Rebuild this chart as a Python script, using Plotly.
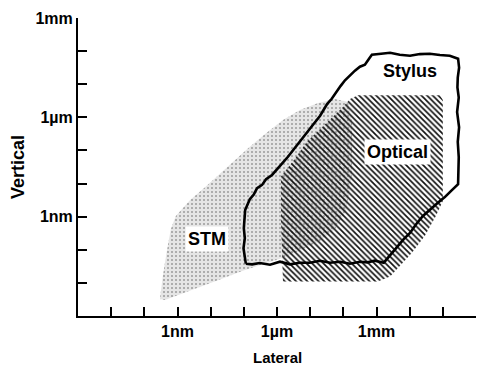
import plotly.graph_objects as go

# ---- data (log10 of metres) ----
# Stylus profilometer region (outline)
stylus_lateral_exp = [-6.94, -6.98, -7.01, -6.97, -7.00, -6.96, -6.82, -6.70, -6.60, -6.45, -6.33,
                      -6.15, -6.00, -5.85, -5.67, -5.50, -5.31, -5.12, -4.92, -4.70, -4.49, -4.35,
                      -4.22, -4.08, -3.95, -3.80, -3.65, -3.50, -3.35, -3.22, -3.14, -2.86, -2.59,
                      -2.30, -1.99, -1.69, -1.39, -1.09, -0.79, -0.54, -0.51, -0.55, -0.56, -0.52,
                      -0.57, -0.51, -0.55, -0.52, -0.54, -0.75, -0.94, -1.15, -1.33, -1.60, -1.80,
                      -1.99, -2.18, -2.35, -2.55, -2.78, -3.05, -3.27, -3.50, -3.80, -4.10, -4.40,
                      -4.70, -5.01, -5.31, -5.61, -5.91, -6.21, -6.52, -6.75, -6.94]
stylus_vertical_exp = [-10.42, -10.20, -9.95, -9.65, -9.35, -8.80, -8.47, -8.33, -8.14, -8.04, -7.87,
                       -7.74, -7.58, -7.40, -7.19, -6.98, -6.74, -6.50, -6.23, -5.95, -5.60, -5.44,
                       -5.24, -5.05, -4.88, -4.73, -4.59, -4.47, -4.41, -4.22, -4.11, -4.08, -4.05,
                       -4.11, -4.14, -4.09, -4.08, -4.12, -4.14, -4.23, -4.50, -4.80, -5.10, -5.40,
                       -5.84, -6.30, -6.74, -7.20, -8.02, -8.22, -8.41, -8.58, -8.74, -8.98, -9.22,
                       -9.49, -9.68, -9.88, -10.12, -10.39, -10.33, -10.38, -10.36, -10.42, -10.36,
                       -10.39, -10.33, -10.39, -10.39, -10.44, -10.36, -10.45, -10.40, -10.44, -10.42]

# Optical region (hatched)
optical_lateral_exp = [-5.82, -5.88, -5.88, -5.46, -5.10, -4.55, -4.01, -3.80, -3.56, -1.09, -1.00,
                       -1.00, -1.21, -1.54, -1.93, -2.29, -2.59, -2.96, -5.82]
optical_vertical_exp = [-10.96, -9.13, -7.79, -7.25, -6.74, -6.20, -5.69, -5.45, -5.33, -5.33, -5.48,
                        -8.53, -8.98, -9.58, -10.09, -10.48, -10.81, -10.96, -10.96]

# STM region (stippled)
stm_lateral_exp = [-9.53, -9.44, -9.32, -9.20, -9.05, -8.62, -8.17, -7.72, -7.27, -6.82, -6.36,
                   -5.82, -5.31, -4.76, -4.25, -3.86, -3.74, -3.74, -3.92, -4.25, -4.70, -5.31,
                   -5.82, -6.51, -7.03, -7.72, -8.32, -8.93, -9.38, -9.53]
stm_vertical_exp = [-11.49, -10.78, -10.03, -9.37, -8.98, -8.50, -8.11, -7.70, -7.28, -6.89, -6.50,
                    -6.08, -5.78, -5.57, -5.45, -5.54, -6.14, -7.73, -8.83, -9.37, -9.73, -10.03,
                    -10.24, -10.45, -10.63, -10.90, -11.13, -11.34, -11.52, -11.49]

labels = ["STM", "Optical", "Stylus"]
label_lateral_exp = [-8.11, -2.38, -1.99]
label_vertical_exp = [-9.67, -7.04, -4.59]

x_tick_exp = list(range(-12, 1))
x_tick_text = {-9: "1nm", -6: "1\u00b5m", -3: "1mm", 0: "1m"}
y_tick_exp = list(range(-12, -2))
y_tick_text = {-9: "1nm", -6: "1\u00b5m", -3: "1mm"}


def pw(v):
    return [10 ** e for e in v]


FONT = "Liberation Sans, Arial, Helvetica, sans-serif"

fig = go.Figure()

fig.add_trace(go.Scatter(
    x=pw(optical_lateral_exp), y=pw(optical_vertical_exp), mode="lines",
    fill="toself", line=dict(width=0, color="rgba(0,0,0,0)"),
    fillcolor="black",
    fillpattern=dict(shape="\\", size=4, solidity=0.42, fgcolor="#111", fillmode="replace"),
    hoverinfo="skip", showlegend=False))

fig.add_trace(go.Scatter(
    x=pw(stm_lateral_exp), y=pw(stm_vertical_exp), mode="lines",
    fill="toself", line=dict(width=0, color="rgba(0,0,0,0)"),
    fillcolor="rgba(0,0,0,0.10)",
    fillpattern=dict(shape=".", size=4, solidity=0.2, fgcolor="rgba(30,30,30,0.75)", fillmode="overlay"),
    hoverinfo="skip", showlegend=False))

fig.add_trace(go.Scatter(
    x=pw(stylus_lateral_exp), y=pw(stylus_vertical_exp), mode="lines",
    line=dict(width=2.6, color="black"),
    hoverinfo="skip", showlegend=False))

for t, lx, ly in zip(labels, label_lateral_exp, label_vertical_exp):
    fig.add_annotation(x=lx, y=ly, xref="x", yref="y", text=t, showarrow=False,
                       font=dict(family=FONT, size=18, color="black", weight="bold"),
                       bgcolor="white" if t != "Stylus" else None, borderpad=2)

fig.add_annotation(x=0, y=0.5, xref="paper", yref="paper", xanchor="center", yanchor="middle",
                   xshift=-60, text="Vertical", textangle=-90, showarrow=False,
                   font=dict(family=FONT, size=18, color="black", weight="bold"))
fig.add_annotation(x=0.5, y=0, xref="paper", yref="paper", yanchor="middle", yshift=-41,
                   text="Lateral", showarrow=False,
                   font=dict(family=FONT, size=15, color="black", weight="bold"))

axis_common = dict(type="log", showgrid=False, zeroline=False, showline=True, linecolor="black",
                   linewidth=2, ticks="inside", ticklen=9, tickwidth=2, tickcolor="black",
                   tickfont=dict(family=FONT, size=16, color="black", weight="bold"))

fig.update_layout(
    width=486, height=366, margin=dict(l=78, r=10, t=15, b=50),
    paper_bgcolor="white", plot_bgcolor="white",
    xaxis=dict(range=[-12, 0], tickvals=pw(x_tick_exp),
               ticktext=[x_tick_text.get(e, "") for e in x_tick_exp], **axis_common),
    yaxis=dict(range=[-12, -3], tickvals=pw(y_tick_exp),
               ticktext=[y_tick_text.get(e, "") for e in y_tick_exp], **axis_common),
)

fig.write_html("out.html")
